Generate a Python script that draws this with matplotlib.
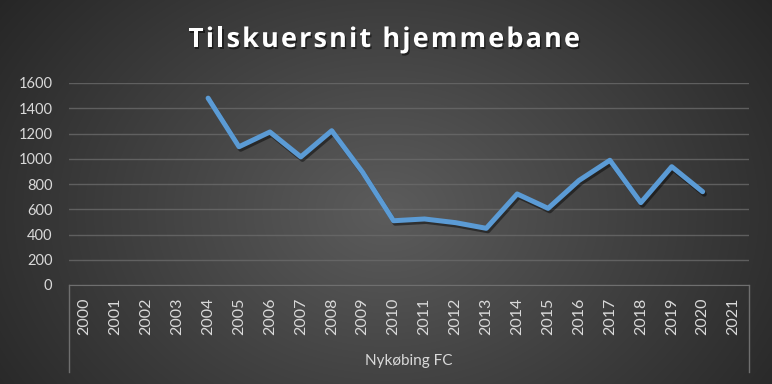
import numpy as np
import matplotlib
matplotlib.use("Agg")
import matplotlib.pyplot as plt
import matplotlib.patheffects as pe
from matplotlib.textpath import TextPath
from matplotlib.font_manager import FontProperties

years = [str(y) for y in range(2000, 2022)]
attendance = [None, None, None, None, 1480, 1095, 1212, 1015, 1222, 893, 509, 523,
              494, 449, 721, 607, 828, 988, 652, 937, 739, None]
title = "Tilskuersnit hjemmebane"
group_label = "Nykøbing FC"
yticks = [0, 200, 400, 600, 800, 1000, 1200, 1400, 1600]

W, H = 772, 384
fig = plt.figure(figsize=(W / 100, H / 100), dpi=100)

# radial gradient background
bg = fig.add_axes([0, 0, 1, 1], zorder=-10)
yy, xx = np.mgrid[0:H, 0:W]
cx, cy = W * 0.5, H * 0.55
r = np.sqrt(((xx - cx) / (W * 0.62)) ** 2 + ((yy - cy) / (H * 0.95)) ** 2)
r = np.clip(r, 0, 1)
c_in = np.array([0x5c, 0x5c, 0x5c]) / 255
c_out = np.array([0x26, 0x26, 0x26]) / 255
img = c_in[None, None, :] * (1 - r[..., None]) + c_out[None, None, :] * r[..., None]
bg.imshow(img, aspect="auto", extent=[0, 1, 0, 1])
bg.axis("off")

left, right = 69 / W, 749 / W
bottom, top = (H - 285) / H, (H - 83) / H
ax = fig.add_axes([left, bottom, right - left, top - bottom])
ax.set_facecolor("none")

x = np.arange(len(years))
vals = np.array([np.nan if v is None else v for v in attendance], dtype=float)
ax.plot(x, vals, color="#5B9BD5", lw=3.6, solid_capstyle="round", solid_joinstyle="round",
        path_effects=[pe.SimpleLineShadow(offset=(1.2, -1.8), shadow_color="black", alpha=0.45),
                      pe.Normal()], zorder=3)

ax.set_xlim(-0.5, len(years) - 0.5)
ax.set_ylim(0, 1600)
ax.set_yticks(yticks)
ax.set_yticklabels([str(t) for t in yticks])
ax.set_xticks(x)
ax.set_xticklabels(years, rotation=90, va="top", ha="center")
ax.grid(axis="y", color="#6a6a6a", lw=1.0, alpha=0.8)
ax.set_axisbelow(True)
for s in ["top", "left", "right"]:
    ax.spines[s].set_visible(False)
ax.spines["bottom"].set_color("#6f6f6f")
ax.tick_params(axis="both", length=0, labelcolor="#d9d9d9", labelsize=10.5)
ax.tick_params(axis="y", pad=12)
ax.tick_params(axis="x", pad=9, labelsize=11.5)
for lbl in ax.get_xticklabels() + ax.get_yticklabels():
    lbl.set_fontfamily("Lato")

# multi-level category box
depth = (372 - 285) / (285 - 83)
for xa in (0, 1):
    ax.plot([xa, xa], [0, -depth], transform=ax.transAxes, clip_on=False,
            color="#6f6f6f", lw=1.0)
ax.text(0.5, -(361 - 285) / (285 - 83), group_label, transform=ax.transAxes,
        ha="center", va="center", color="#d9d9d9", fontsize=11, family="Lato")

# letter-spaced title
fs = 19.5
fp = FontProperties(family="Open Sans", weight="bold", size=fs)
px_per_pt = 100 / 72
adv = []
for ch in title:
    if ch == " ":
        w = TextPath((0, 0), "a a", prop=fp).get_extents().width - TextPath((0, 0), "aa", prop=fp).get_extents().width
    else:
        w = TextPath((0, 0), "|" + ch + "|", prop=fp).get_extents().width - TextPath((0, 0), "||", prop=fp).get_extents().width
    adv.append(w * px_per_pt)
target_w = 392.0
base_w = sum(adv)
spacing = (target_w - base_w) / (len(title) - 1)
xpos = 188.0
for ch, a in zip(title, adv):
    if ch != " ":
        fig.text(xpos / W, 1 - 47 / H, ch, ha="left", va="baseline", color="white",
                 fontproperties=fp,
                 path_effects=[pe.withSimplePatchShadow(offset=(1, -1.5), shadow_rgbFace="black", alpha=0.5)])
    xpos += a + spacing

fig.savefig("out.png", dpi=100)
